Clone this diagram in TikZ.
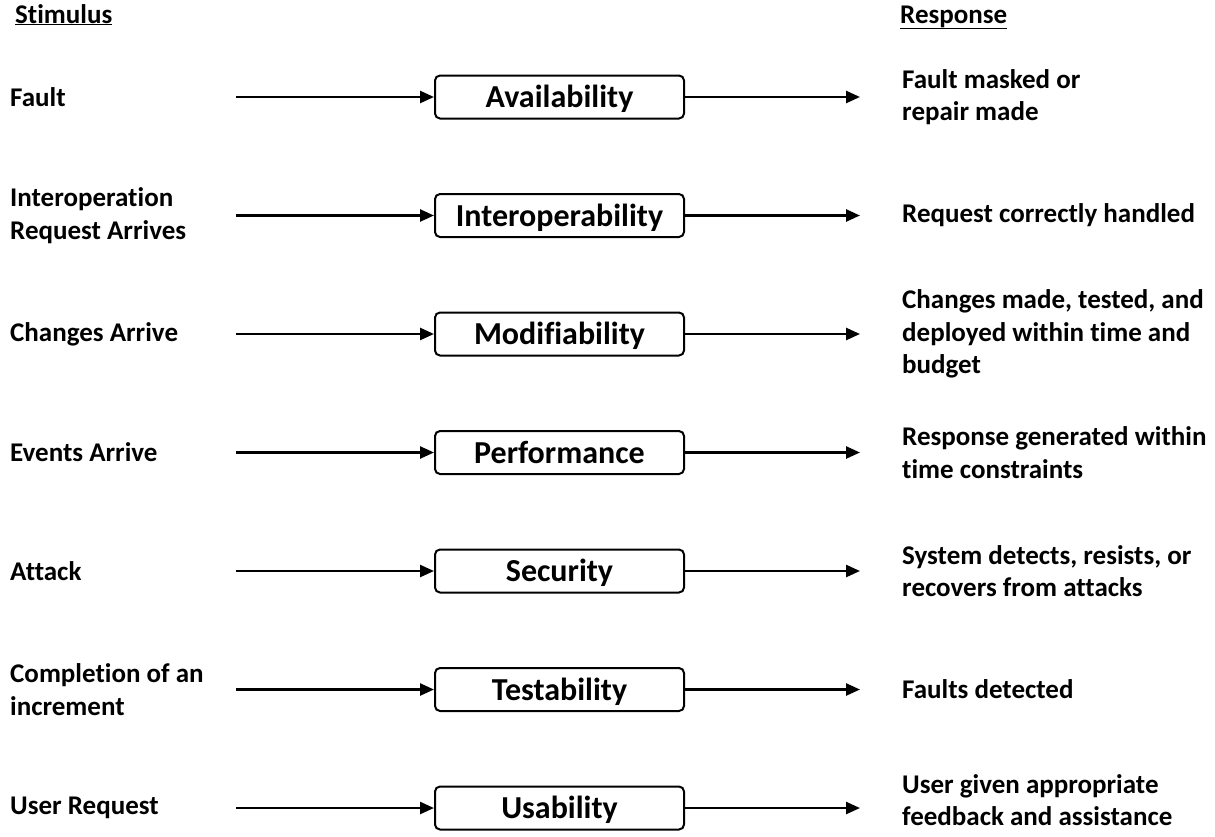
\documentclass[tikz,border=0pt]{standalone}
\usepackage{fontspec}
\setmainfont{Carlito}[Ligatures=NoCommon]
\usetikzlibrary{arrows.meta,%
                positioning}

\begin{document}
\begin{tikzpicture}[x=1pt,y=-1pt,>={Triangle[length=14pt,width=12pt]},
                    font=\bfseries\fontsize{27}{32.5}\selectfont]
  \tikzset{node distance = 73.5pt}
  \tikzset{quality/.style = {draw, line width=2pt, rounded corners=5pt,
                             minimum width=249pt, minimum height=43pt,
                             inner sep=0pt, text height=21pt, text depth=0pt,
                             font=\bfseries\fontsize{32}{38}\selectfont}}
  \tikzset{side/.style = {anchor=west, align=left, inner sep=0pt}}
  \tikzset{flow/.style = {->, line width=2.5pt}}
  \useasboundingbox (0,0) rectangle (1215,836);

  \coordinate (lft) at (10,0);
  \coordinate (start) at (236,0);
  \coordinate (stop) at (860,0);
  \coordinate (rgt) at (902,0);

  \node[anchor=base west, inner sep=0pt] (stimhead) at (15,23) {\underline{Stimulus}};
  \node[anchor=base west, inner sep=0pt] (resphead) at (900,23) {\underline{Response}};

  \node[quality] (q1) at (559.5,97) {Availability};
  \node[quality, below=of q1] (q2) {Interoperability};
  \node[quality, below=of q2] (q3) {Modifiability};
  \node[quality, below=of q3] (q4) {Performance};
  \node[quality, below=of q4] (q5) {Security};
  \node[quality, below=of q5] (q6) {Testability};
  \node[quality, below=of q6] (q7) {Usability};

  \node[side] (s1) at (q1 -| lft) {Fault};
  \node[side] (s2) at (q2 -| lft) {Interoperation\\Request Arrives};
  \node[side] (s3) at (q3 -| lft) {Changes Arrive};
  \node[side] (s4) at (q4 -| lft) {Events Arrive};
  \node[side] (s5) at (q5 -| lft) {Attack};
  \node[side] (s6) at (q6 -| lft) {Completion of an\\increment};
  \node[side] (s7) at (q7 -| lft) {User Request};

  \node[side] (r1) at (q1 -| rgt) {Fault masked or\\repair made};
  \node[side] (r2) at (q2 -| rgt) {Request correctly handled};
  \node[side] (r3) at (q3 -| rgt) {Changes made, tested, and\\deployed within time and\\budget};
  \node[side] (r4) at (q4 -| rgt) {Response generated within\\time constraints};
  \node[side] (r5) at (q5 -| rgt) {System detects, resists, or\\recovers from attacks};
  \node[side] (r6) at (q6 -| rgt) {Faults detected};
  \node[side, yshift=8pt] (r7) at (q7 -| rgt) {User given appropriate\\feedback and assistance};

  \foreach \i in {1,...,7}{
    \draw[flow] (q\i.west -| start) -- (q\i.west);
    \draw[flow] (q\i.east) -- (q\i.east -| stop);
  }
\end{tikzpicture}
\end{document}
